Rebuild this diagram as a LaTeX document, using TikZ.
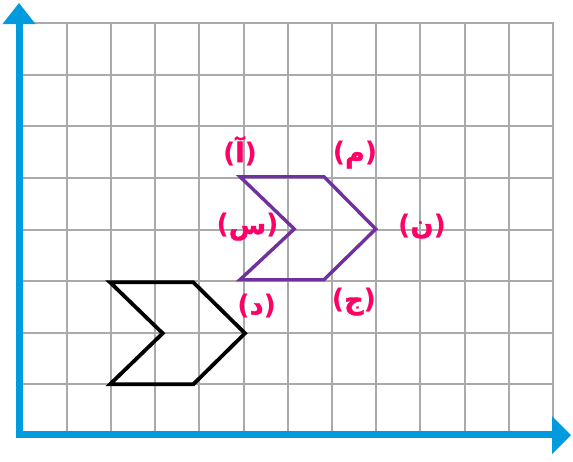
\documentclass[tikz,border=0pt]{standalone}
\usepackage{fontspec}
\TeXXeTstate=1
\newfontfamily\arabicfont[Script=Arabic,FakeBold=1.5]{DejaVu Sans}
\newfontfamily\parenfont{DejaVu Sans}
\definecolor{gridgray}{RGB}{170,170,170}
\definecolor{axisblue}{RGB}{0,155,222}
\definecolor{shapepurple}{RGB}{112,48,160}
\definecolor{labpink}{RGB}{255,0,102}
\newcommand{\arlab}[1]{{\parenfont(}{\arabicfont\beginR #1\endR}{\parenfont)}}
\tikzset{
  gridline/.style={draw=gridgray,line width=2pt},
  axisline/.style={draw=axisblue,line width=7pt,line join=miter},
  axishead/.style={fill=axisblue,draw=none},
  purpleshape/.style={draw=shapepurple,line width=3.4pt,line join=miter},
  blackshape/.style={draw=black,line width=3.8pt,line join=miter},
  lab/.style={text=labpink,font=\bfseries\fontsize{27}{31}\selectfont,inner sep=0pt}
}
\begin{document}
\begin{tikzpicture}[x=1pt,y=-1pt]
\useasboundingbox (0,0) rectangle (573,461);
% grid
\foreach \k in {1,...,12} {
  \draw[gridline] ({22.5+44.2*\k},23.3) -- ({22.5+44.2*\k},434);
}
\foreach \j in {0,...,7} {
  \draw[gridline] (20,{23.3+51.57*\j}) -- (553.5,{23.3+51.57*\j});
}
% axes
\coordinate (ytop) at (19,22);
\coordinate (origin) at (19,434.5);
\coordinate (xend) at (554,434.5);
\draw[axisline] (ytop) -- (origin) -- (xend);
\fill[axishead] (19,3) -- (35.5,24) -- (2.5,24) -- cycle;
\fill[axishead] (571,435) -- (552,416) -- (552,454) -- cycle;
% purple shape
\draw[purpleshape] (240,176.7) -- (324,176.7) -- (375.7,229) -- (324,279.7) -- (240,279.7) -- (294.3,229) -- cycle;
% black shape
\draw[blackshape] (110,282.3) -- (193.3,282.3) -- (245,333.3) -- (193.3,384.3) -- (110,384.3) -- (162.7,333.3) -- cycle;
% labels
\node[lab] (lA) at (240,151) {\arlab{آ}};
\node[lab] (lM) at (355,155) {\arlab{م}};
\node[lab] (lS) at (247.5,227) {\arlab{س}};
\node[lab] (lN) at (422,226) {\arlab{ن}};
\node[lab] (lJ) at (354,302) {\arlab{ج}};
\node[lab] (lD) at (256.7,306) {\arlab{د}};
\end{tikzpicture}
\end{document}
